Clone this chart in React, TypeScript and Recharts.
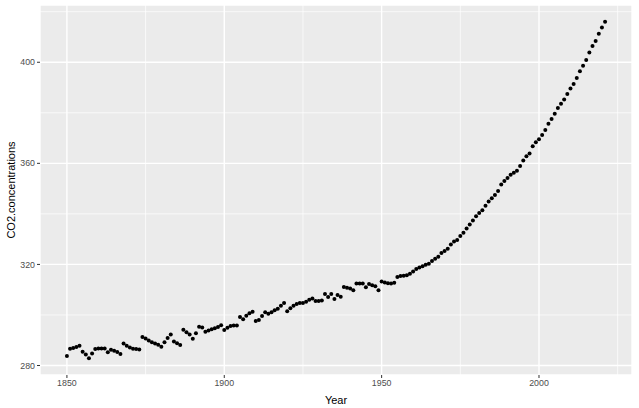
import {
  CartesianGrid,
  ReferenceLine,
  Scatter,
  ScatterChart,
  XAxis,
  YAxis,
} from "recharts";

const years = [
  1850, 1851, 1852, 1853, 1854, 1855, 1856, 1857, 1858, 1859,
  1860, 1861, 1862, 1863, 1864, 1865, 1866, 1867, 1868, 1869,
  1870, 1871, 1872, 1873, 1874, 1875, 1876, 1877, 1878, 1879,
  1880, 1881, 1882, 1883, 1884, 1885, 1886, 1887, 1888, 1889,
  1890, 1891, 1892, 1893, 1894, 1895, 1896, 1897, 1898, 1899,
  1900, 1901, 1902, 1903, 1904, 1905, 1906, 1907, 1908, 1909,
  1910, 1911, 1912, 1913, 1914, 1915, 1916, 1917, 1918, 1919,
  1920, 1921, 1922, 1923, 1924, 1925, 1926, 1927, 1928, 1929,
  1930, 1931, 1932, 1933, 1934, 1935, 1936, 1937, 1938, 1939,
  1940, 1941, 1942, 1943, 1944, 1945, 1946, 1947, 1948, 1949,
  1950, 1951, 1952, 1953, 1954, 1955, 1956, 1957, 1958, 1959,
  1960, 1961, 1962, 1963, 1964, 1965, 1966, 1967, 1968, 1969,
  1970, 1971, 1972, 1973, 1974, 1975, 1976, 1977, 1978, 1979,
  1980, 1981, 1982, 1983, 1984, 1985, 1986, 1987, 1988, 1989,
  1990, 1991, 1992, 1993, 1994, 1995, 1996, 1997, 1998, 1999,
  2000, 2001, 2002, 2003, 2004, 2005, 2006, 2007, 2008, 2009,
  2010, 2011, 2012, 2013, 2014, 2015, 2016, 2017, 2018, 2019,
  2020, 2021,
];

// ppm, one per year
const co2 = [
  283.8, 286.6, 286.9, 287.3, 287.8, 285.4, 284.4, 282.9, 284.8, 286.5,
  286.7, 286.7, 286.7, 285.2, 286.2, 285.8, 285.3, 284.6, 288.7, 287.8,
  287.1, 286.6, 286.5, 286.3, 291.3, 290.7, 289.9, 289.2, 288.7, 288.2,
  287.4, 289.2, 290.9, 292.3, 289.5, 288.8, 288.1, 294.2, 293.2, 292.3,
  290.6, 292.8, 295.3, 295.0, 293.4, 293.9, 294.3, 294.7, 295.2, 295.9,
  294.1, 294.9, 295.6, 295.8, 295.8, 299.2, 298.3, 299.7, 300.7, 301.3,
  297.6, 298.0, 299.6, 301.1, 300.5, 301.1, 301.9, 302.5, 303.6, 304.7,
  301.5, 302.7, 303.6, 304.3, 304.7, 304.7, 305.2, 306.0, 306.5, 305.5,
  305.5, 305.7, 308.3, 307.1, 308.3, 306.3, 307.9, 307.2, 311.1, 310.8,
  310.5, 309.8, 312.5, 312.5, 312.5, 311.0, 312.3, 311.8, 311.4, 309.8,
  313.2, 312.8, 312.6, 312.5, 312.7, 315.0, 315.4, 315.5, 315.7, 316.3,
  317.2, 318.2, 318.8, 319.3, 319.9, 320.3, 321.4, 322.2, 323.0, 324.5,
  325.3, 326.2, 327.9, 329.1, 329.7, 331.2, 332.5, 334.2, 335.8, 337.4,
  339.1, 340.3, 341.4, 343.2, 344.9, 346.2, 347.5, 349.1, 351.6, 353.0,
  354.2, 355.5, 356.3, 357.1, 358.9, 361.1, 362.8, 363.9, 366.8, 368.3,
  369.5, 371.2, 373.2, 375.7, 377.5, 379.6, 381.9, 383.6, 385.3, 387.4,
  389.6, 391.4, 393.8, 396.4, 398.6, 400.9, 403.9, 406.4, 408.4, 411.3,
  413.8, 416.0,
];

const xTicks = [1850, 1900, 1950, 2000];
const xMinor = [1875, 1925, 1975, 2025];
const yTicks = [280, 320, 360, 400];
const yMinor = [300, 340, 380, 420];

const FONT = "'Liberation Sans', Arial, sans-serif";

// ggplot-style 5% expansion on both scales
function expand(values: number[]): [number, number] {
  const lo = Math.min(...values);
  const hi = Math.max(...values);
  const pad = (hi - lo) * 0.05;
  return [lo - pad, hi + pad];
}

const Dot = (props: any) => (
  <circle cx={props.cx} cy={props.cy} r={2} fill="#000000" />
);

export default function App() {
  const data = years.map((year, i) => ({ year, co2: co2[i] }));

  return (
    <div style={{ position: "absolute", left: 0, top: 0, background: "#fff" }}>
      <ScatterChart
        width={639}
        height={408}
        margin={{ top: 5, right: 7, bottom: 0, left: 0 }}
      >
        <CartesianGrid fill="#EBEBEB" stroke="#FFFFFF" strokeWidth={1.4} />
        {xMinor.map((x) => (
          <ReferenceLine key={`x${x}`} x={x} stroke="#FFFFFF" strokeWidth={0.7} />
        ))}
        {yMinor.map((y) => (
          <ReferenceLine key={`y${y}`} y={y} stroke="#FFFFFF" strokeWidth={0.7} />
        ))}
        <XAxis
          type="number"
          dataKey="year"
          domain={expand(years)}
          allowDataOverflow
          ticks={xTicks}
          height={33}
          axisLine={false}
          tickSize={3}
          tickMargin={2}
          tickLine={{ stroke: "#333333" }}
          tick={{ fill: "#4D4D4D", fontSize: 8.8, fontFamily: FONT }}
          label={{
            value: "Year",
            position: "insideBottom",
            offset: 4,
            style: { fill: "#000000", fontSize: 11, fontFamily: FONT },
          }}
        />
        <YAxis
          type="number"
          dataKey="co2"
          domain={expand(co2)}
          allowDataOverflow
          ticks={yTicks}
          width={40}
          axisLine={false}
          tickSize={3}
          tickMargin={2}
          tickLine={{ stroke: "#333333" }}
          tick={{ fill: "#4D4D4D", fontSize: 8.8, fontFamily: FONT }}
          label={{
            value: "CO2.concentrations",
            angle: -90,
            position: "insideLeft",
            offset: 11,
            style: {
              fill: "#000000",
              fontSize: 11,
              fontFamily: FONT,
              textAnchor: "middle",
            },
          }}
        />
        <Scatter data={data} shape={Dot} isAnimationActive={false} />
      </ScatterChart>
    </div>
  );
}
